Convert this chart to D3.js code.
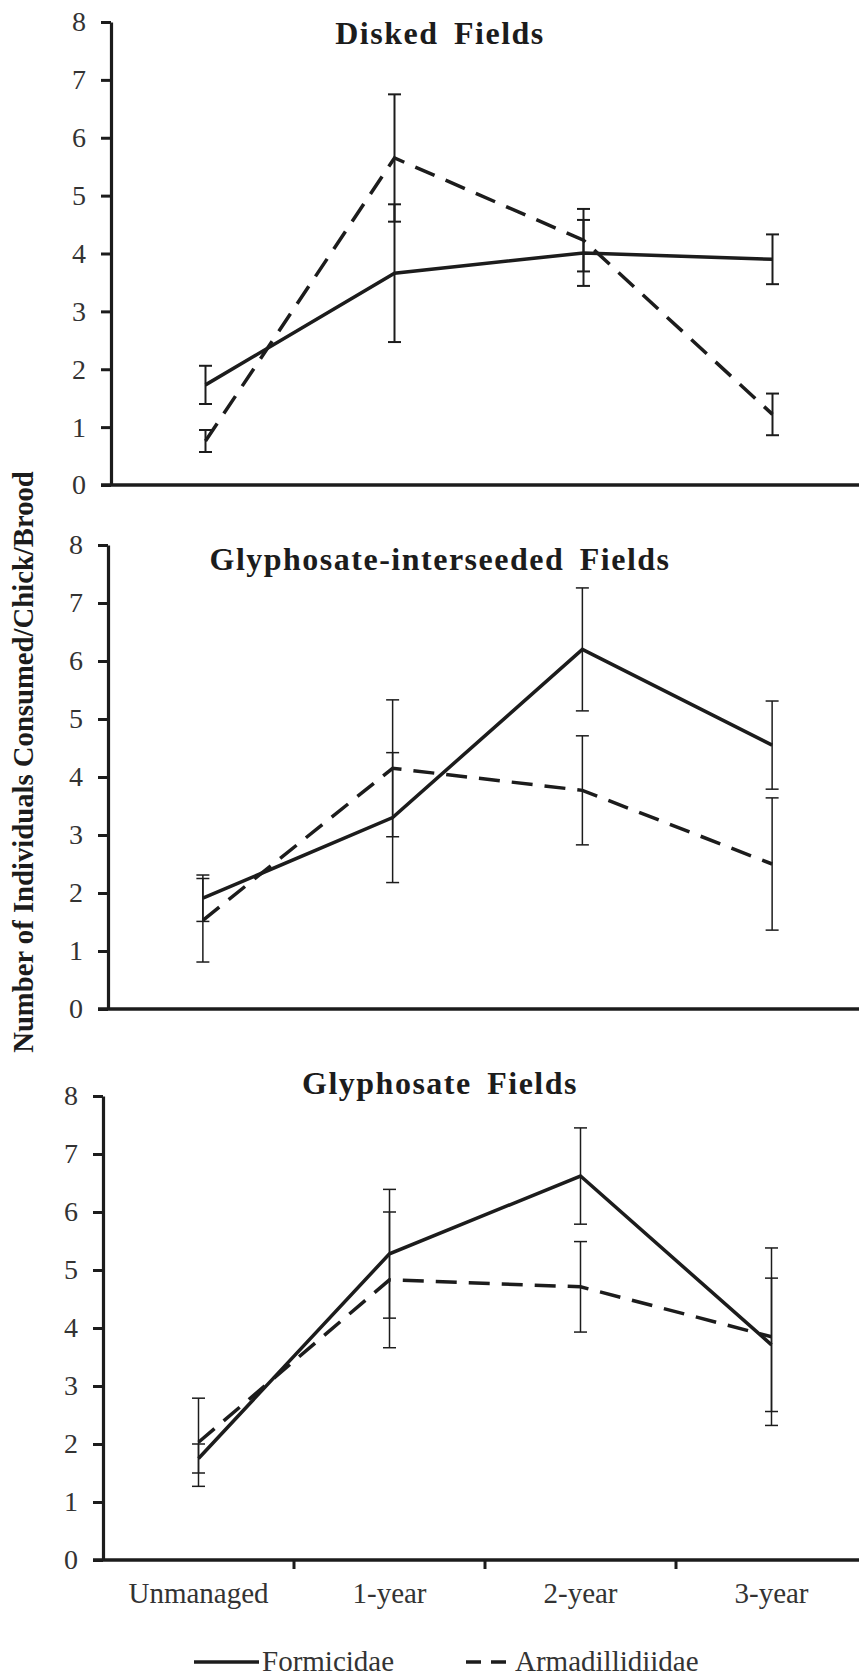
<!DOCTYPE html>
<html>
<head>
<meta charset="utf-8">
<script src="https://cdn.jsdelivr.net/npm/d3@7/dist/d3.min.js"></script>
<style>
  html, body { margin: 0; padding: 0; background: #fff; }
  svg { display: block; }
</style>
</head>
<body>
<svg id="chart" width="859" height="1676"></svg>
<script>
// ---------------- data ----------------
const categories = ["Unmanaged", "1-year", "2-year", "3-year"];
const panelTitles = ["Disked Fields", "Glyphosate-interseeded Fields", "Glyphosate Fields"];
const seriesNames = ["Formicidae", "Armadillidiidae"];
const yTicks = [0, 1, 2, 3, 4, 5, 6, 7, 8];
const yLabel = "Number of Individuals Consumed/Chick/Brood";

// Disked fields
const formicidaeDisked = [1.73, 3.66, 4.01, 3.90];
const formicidaeDiskedErr = [0.33, 1.19, 0.57, 0.43];
const armaDisked = [0.76, 5.65, 4.23, 1.22];
const armaDiskedErr = [0.19, 1.10, 0.54, 0.36];
// Glyphosate-interseeded fields
const formicidaeInter = [1.91, 3.30, 6.20, 4.55];
const formicidaeInterErr = [0.40, 1.12, 1.06, 0.76];
const armaInter = [1.53, 4.15, 3.77, 2.50];
const armaInterErr = [0.72, 1.18, 0.94, 1.14];
// Glyphosate fields
const formicidaeGly = [1.75, 5.28, 6.62, 3.71];
const formicidaeGlyErr = [0.25, 1.11, 0.83, 1.15];
const armaGly = [2.03, 4.83, 4.71, 3.85];
const armaGlyErr = [0.76, 1.17, 0.78, 1.53];

const panelData = [
  [{ name: seriesNames[0], v: formicidaeDisked, e: formicidaeDiskedErr },
   { name: seriesNames[1], v: armaDisked, e: armaDiskedErr }],
  [{ name: seriesNames[0], v: formicidaeInter, e: formicidaeInterErr },
   { name: seriesNames[1], v: armaInter, e: armaInterErr }],
  [{ name: seriesNames[0], v: formicidaeGly, e: formicidaeGlyErr },
   { name: seriesNames[1], v: armaGly, e: armaGlyErr }]
];

// ---------------- layout ----------------
const W = 859, H = 1676;
const FONT = "'Liberation Serif', 'Times New Roman', Times, 'DejaVu Serif', serif";
const layout = [
  { left: 111, y0: 485, y8: 22, titleY: 44 },
  { left: 108, y0: 1009, y8: 545, titleY: 570 },
  { left: 103, y0: 1560, y8: 1096, titleY: 1094 }
];
const rightEnd = 867;
const ink = "#1c1c1c";
const dash = "21,12";

const svg = d3.select("#chart");
svg.append("rect").attr("width", W).attr("height", H).attr("fill", "#fff");

panelData.forEach((series, pi) => {
  const L = layout[pi];
  const x = d3.scaleBand().domain(categories).range([L.left, rightEnd]).paddingInner(0).paddingOuter(0);
  const y = d3.scaleLinear().domain([0, 8]).range([L.y0, L.y8]);
  const cx = c => x(c) + x.bandwidth() / 2;
  const g = svg.append("g");

  // y axis
  const yAxis = d3.axisLeft(y).tickValues(yTicks).tickSize(10).tickSizeOuter(0).tickPadding(15);
  const ya = g.append("g").attr("transform", `translate(${L.left},0)`).call(yAxis);
  ya.attr("font-family", FONT).attr("font-size", 28);
  ya.select(".domain").attr("stroke", ink).attr("stroke-width", 3.2);
  ya.selectAll(".tick line").attr("stroke", ink).attr("stroke-width", 3);
  ya.selectAll(".tick text").attr("fill", "#333").attr("font-family", FONT).attr("font-size", 28);

  // x axis line
  g.append("line")
    .attr("x1", L.left - 10).attr("x2", W)
    .attr("y1", y(0)).attr("y2", y(0))
    .attr("stroke", ink).attr("stroke-width", 3.4);

  if (pi === 2) {
    g.selectAll(".xtick").data(categories.slice(1)).enter().append("line")
      .attr("x1", d => x(d)).attr("x2", d => x(d))
      .attr("y1", y(0)).attr("y2", y(0) + 9)
      .attr("stroke", ink).attr("stroke-width", 3);
    g.selectAll(".xlab").data(categories).enter().append("text")
      .attr("x", d => cx(d)).attr("y", y(0) + 43)
      .attr("text-anchor", "middle").attr("font-family", FONT)
      .attr("font-size", 29).attr("fill", "#333")
      .text(d => d);
  }

  // title
  g.append("text")
    .attr("x", 440).attr("y", L.titleY)
    .attr("text-anchor", "middle").attr("font-family", FONT)
    .attr("font-size", 32).attr("font-weight", "bold").attr("fill", ink)
    .attr("letter-spacing", 1.5).attr("word-spacing", 6)
    .text(panelTitles[pi]);

  // error bars
  series.forEach((s) => {
    const eb = g.append("g");
    const capW = 6.5;
    const sw = pi === 0 ? 2 : 1.5;
    categories.forEach((c, i) => {
      const hi = y(s.v[i] + s.e[i]), lo = y(s.v[i] - s.e[i]);
      eb.append("line").attr("x1", cx(c)).attr("x2", cx(c)).attr("y1", hi).attr("y2", lo)
        .attr("stroke", ink).attr("stroke-width", sw);
      [hi, lo].forEach(yy => {
        eb.append("line").attr("x1", cx(c) - capW).attr("x2", cx(c) + capW).attr("y1", yy).attr("y2", yy)
          .attr("stroke", ink).attr("stroke-width", sw);
      });
    });
  });

  // lines
  series.forEach((s, si) => {
    const line = d3.line().x((d, i) => cx(categories[i])).y(d => y(d));
    g.append("path").datum(s.v)
      .attr("d", line)
      .attr("fill", "none").attr("stroke", ink).attr("stroke-width", 3.5)
      .attr("stroke-linejoin", "miter")
      .attr("stroke-dasharray", si === 1 ? dash : null);
  });
});

// y-axis title
svg.append("text")
  .attr("transform", "translate(33,762) rotate(-90)")
  .attr("text-anchor", "middle").attr("font-family", FONT)
  .attr("font-size", 28.7).attr("font-weight", "bold").attr("fill", ink)
  .text(yLabel);

// legend
const lg = svg.append("g");
const legendItems = [
  { name: seriesNames[0], x1: 194, x2: 259, tx: 262, dashed: false },
  { name: seriesNames[1], x1: 466, x2: 506, tx: 515, dashed: true }
];
legendItems.forEach(it => {
  lg.append("line").attr("x1", it.x1).attr("x2", it.x2).attr("y1", 1662).attr("y2", 1662)
    .attr("stroke", ink).attr("stroke-width", 3.5)
    .attr("stroke-dasharray", it.dashed ? "15,10" : null);
  lg.append("text").attr("x", it.tx).attr("y", 1671).attr("font-family", FONT)
    .attr("font-size", 29).attr("fill", "#333").text(it.name);
});
</script>
</body>
</html>
